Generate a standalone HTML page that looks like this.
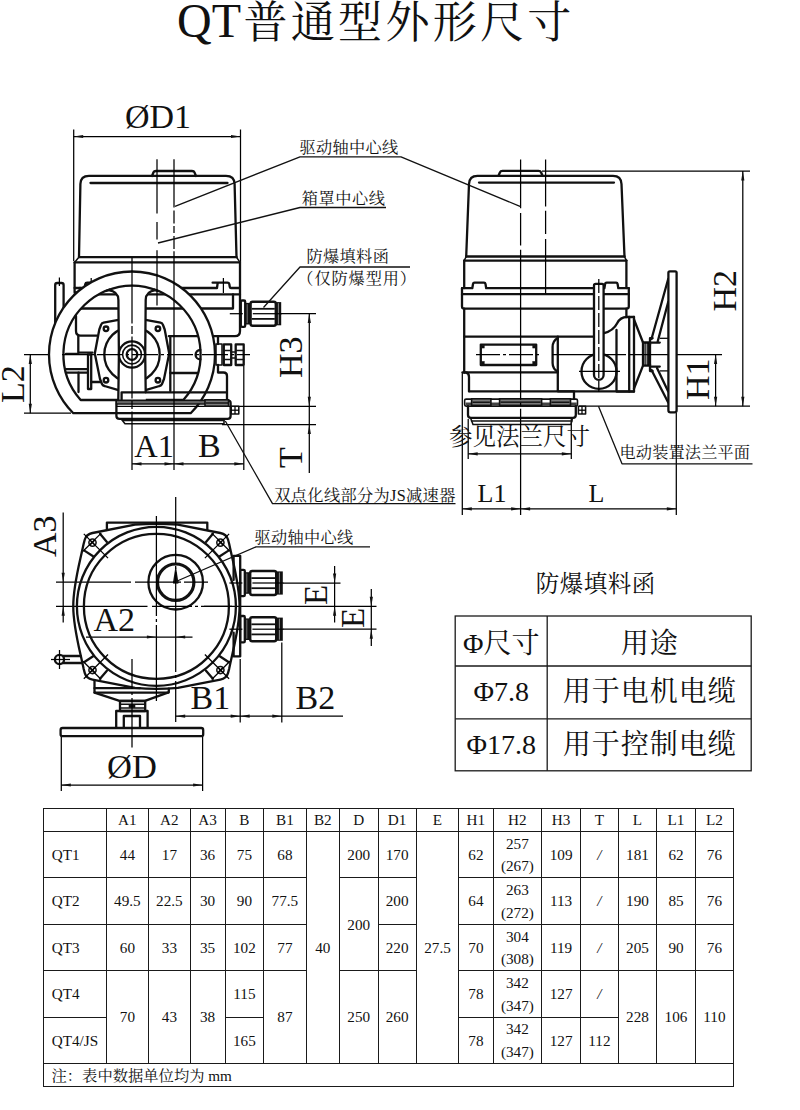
<!DOCTYPE html>
<html lang="zh-CN">
<head>
<meta charset="utf-8">
<title>QT普通型外形尺寸</title>
<style>
html,body{margin:0;padding:0;background:#fff;}
body{width:800px;height:1110px;overflow:hidden;font-family:"Liberation Serif","Noto Serif CJK SC",serif;}
svg{display:block;position:absolute;left:0;top:0;}
.t{font-family:"Liberation Serif","Noto Serif CJK SC",serif;fill:#111;}
.c{font-family:"Liberation Serif","Noto Serif CJK SC",serif;fill:#111;font-weight:300;}
.k{fill:none;stroke:#111;stroke-width:2.3;stroke-linejoin:round;stroke-linecap:round;}
.kw{fill:#fff;stroke:#111;stroke-width:2.3;stroke-linejoin:round;stroke-linecap:round;}
.m{fill:none;stroke:#111;stroke-width:1.55;stroke-linejoin:round;stroke-linecap:round;}
.mw{fill:#fff;stroke:#111;stroke-width:1.55;stroke-linejoin:round;}
.n{fill:none;stroke:#000;stroke-width:1.25;}
.nw{fill:#fff;stroke:#000;stroke-width:1.25;}
.d{fill:none;stroke:#151515;stroke-width:1.15;stroke-dasharray:26 4 3 4;}
.ld{fill:none;stroke:#111;stroke-width:1.3;stroke-linejoin:round;}
.a{fill:#111;stroke:none;}
.b{fill:#111;stroke:#111;stroke-width:0.6;}
.g{fill:#555;stroke:#111;stroke-width:0.8;}
.tb{fill:none;stroke:#1a1a1a;stroke-width:1;shape-rendering:crispEdges;}
.tb2{fill:none;stroke:#1a1a1a;stroke-width:1.3;}
</style>
</head>
<body>
<svg width="800" height="1110" viewBox="0 0 800 1110">
<rect x="0" y="0" width="800" height="1110" fill="#fff"/>
<g id="p_table">
<rect class="tb" x="43.5" y="808" width="690" height="278.5"/>
<line class="tb" x1="106.25" y1="808" x2="106.25" y2="1063"/>
<line class="tb" x1="148.5" y1="808" x2="148.5" y2="1063"/>
<line class="tb" x1="190.25" y1="808" x2="190.25" y2="1063"/>
<line class="tb" x1="225" y1="808" x2="225" y2="1063"/>
<line class="tb" x1="263.75" y1="808" x2="263.75" y2="1063"/>
<line class="tb" x1="306" y1="808" x2="306" y2="1063"/>
<line class="tb" x1="339.5" y1="808" x2="339.5" y2="1063"/>
<line class="tb" x1="378" y1="808" x2="378" y2="1063"/>
<line class="tb" x1="416.25" y1="808" x2="416.25" y2="1063"/>
<line class="tb" x1="458.75" y1="808" x2="458.75" y2="1063"/>
<line class="tb" x1="493" y1="808" x2="493" y2="1063"/>
<line class="tb" x1="541.75" y1="808" x2="541.75" y2="1063"/>
<line class="tb" x1="580.5" y1="808" x2="580.5" y2="1063"/>
<line class="tb" x1="618.25" y1="808" x2="618.25" y2="1063"/>
<line class="tb" x1="656.75" y1="808" x2="656.75" y2="1063"/>
<line class="tb" x1="695.25" y1="808" x2="695.25" y2="1063"/>
<line class="tb" x1="43.5" y1="831.25" x2="733.5" y2="831.25"/>
<line class="tb" x1="43.5" y1="1063" x2="733.5" y2="1063"/>
<line class="tb" x1="43.5" y1="877.5" x2="306" y2="877.5"/>
<line class="tb" x1="339.5" y1="877.5" x2="416.25" y2="877.5"/>
<line class="tb" x1="458.75" y1="877.5" x2="733.5" y2="877.5"/>
<line class="tb" x1="43.5" y1="924" x2="306" y2="924"/>
<line class="tb" x1="378" y1="924" x2="416.25" y2="924"/>
<line class="tb" x1="458.75" y1="924" x2="733.5" y2="924"/>
<line class="tb" x1="43.5" y1="970.5" x2="306" y2="970.5"/>
<line class="tb" x1="339.5" y1="970.5" x2="416.25" y2="970.5"/>
<line class="tb" x1="458.75" y1="970.5" x2="733.5" y2="970.5"/>
<line class="tb" x1="43.5" y1="1017" x2="106.25" y2="1017"/>
<line class="tb" x1="225" y1="1017" x2="263.75" y2="1017"/>
<line class="tb" x1="458.75" y1="1017" x2="618.25" y2="1017"/>
<text class="t" x="127.38" y="824.83" font-size="15.2" text-anchor="middle">A1</text>
<text class="t" x="169.38" y="824.83" font-size="15.2" text-anchor="middle">A2</text>
<text class="t" x="207.62" y="824.83" font-size="15.2" text-anchor="middle">A3</text>
<text class="t" x="244.38" y="824.83" font-size="15.2" text-anchor="middle">B</text>
<text class="t" x="284.88" y="824.83" font-size="15.2" text-anchor="middle">B1</text>
<text class="t" x="322.75" y="824.83" font-size="15.2" text-anchor="middle">B2</text>
<text class="t" x="358.75" y="824.83" font-size="15.2" text-anchor="middle">D</text>
<text class="t" x="397.12" y="824.83" font-size="15.2" text-anchor="middle">D1</text>
<text class="t" x="437.5" y="824.83" font-size="15.2" text-anchor="middle">E</text>
<text class="t" x="475.88" y="824.83" font-size="15.2" text-anchor="middle">H1</text>
<text class="t" x="517.38" y="824.83" font-size="15.2" text-anchor="middle">H2</text>
<text class="t" x="561.12" y="824.83" font-size="15.2" text-anchor="middle">H3</text>
<text class="t" x="599.38" y="824.83" font-size="15.2" text-anchor="middle">T</text>
<text class="t" x="637.5" y="824.83" font-size="15.2" text-anchor="middle">L</text>
<text class="t" x="676" y="824.83" font-size="15.2" text-anchor="middle">L1</text>
<text class="t" x="714.38" y="824.83" font-size="15.2" text-anchor="middle">L2</text>
<text class="t" x="51.7" y="859.88" font-size="15.2" text-anchor="start">QT1</text>
<text class="t" x="51.7" y="906.25" font-size="15.2" text-anchor="start">QT2</text>
<text class="t" x="51.7" y="952.75" font-size="15.2" text-anchor="start">QT3</text>
<text class="t" x="51.7" y="999.25" font-size="15.2" text-anchor="start">QT4</text>
<text class="t" x="51.7" y="1045.5" font-size="15.2" text-anchor="start">QT4/JS</text>
<text class="t" x="127.38" y="859.88" font-size="15.2" text-anchor="middle">44</text>
<text class="t" x="169.38" y="859.88" font-size="15.2" text-anchor="middle">17</text>
<text class="t" x="207.62" y="859.88" font-size="15.2" text-anchor="middle">36</text>
<text class="t" x="244.38" y="859.88" font-size="15.2" text-anchor="middle">75</text>
<text class="t" x="284.88" y="859.88" font-size="15.2" text-anchor="middle">68</text>
<text class="t" x="127.38" y="906.25" font-size="15.2" text-anchor="middle">49.5</text>
<text class="t" x="169.38" y="906.25" font-size="15.2" text-anchor="middle">22.5</text>
<text class="t" x="207.62" y="906.25" font-size="15.2" text-anchor="middle">30</text>
<text class="t" x="244.38" y="906.25" font-size="15.2" text-anchor="middle">90</text>
<text class="t" x="284.88" y="906.25" font-size="15.2" text-anchor="middle">77.5</text>
<text class="t" x="127.38" y="952.75" font-size="15.2" text-anchor="middle">60</text>
<text class="t" x="169.38" y="952.75" font-size="15.2" text-anchor="middle">33</text>
<text class="t" x="207.62" y="952.75" font-size="15.2" text-anchor="middle">35</text>
<text class="t" x="244.38" y="952.75" font-size="15.2" text-anchor="middle">102</text>
<text class="t" x="284.88" y="952.75" font-size="15.2" text-anchor="middle">77</text>
<text class="t" x="127.38" y="1022.25" font-size="15.2" text-anchor="middle">70</text>
<text class="t" x="169.38" y="1022.25" font-size="15.2" text-anchor="middle">43</text>
<text class="t" x="207.62" y="1022.25" font-size="15.2" text-anchor="middle">38</text>
<text class="t" x="244.38" y="999.25" font-size="15.2" text-anchor="middle">115</text>
<text class="t" x="244.38" y="1045.5" font-size="15.2" text-anchor="middle">165</text>
<text class="t" x="284.88" y="1022.25" font-size="15.2" text-anchor="middle">87</text>
<text class="t" x="322.75" y="952.62" font-size="15.2" text-anchor="middle">40</text>
<text class="t" x="358.75" y="859.88" font-size="15.2" text-anchor="middle">200</text>
<text class="t" x="358.75" y="929.5" font-size="15.2" text-anchor="middle">200</text>
<text class="t" x="358.75" y="1022.25" font-size="15.2" text-anchor="middle">250</text>
<text class="t" x="397.12" y="859.88" font-size="15.2" text-anchor="middle">170</text>
<text class="t" x="397.12" y="906.25" font-size="15.2" text-anchor="middle">200</text>
<text class="t" x="397.12" y="952.75" font-size="15.2" text-anchor="middle">220</text>
<text class="t" x="397.12" y="1022.25" font-size="15.2" text-anchor="middle">260</text>
<text class="t" x="437.5" y="952.62" font-size="15.2" text-anchor="middle">27.5</text>
<text class="t" x="475.88" y="859.88" font-size="15.2" text-anchor="middle">62</text>
<text class="t" x="475.88" y="906.25" font-size="15.2" text-anchor="middle">64</text>
<text class="t" x="475.88" y="952.75" font-size="15.2" text-anchor="middle">70</text>
<text class="t" x="475.88" y="999.25" font-size="15.2" text-anchor="middle">78</text>
<text class="t" x="475.88" y="1045.5" font-size="15.2" text-anchor="middle">78</text>
<text class="t" x="561.12" y="859.88" font-size="15.2" text-anchor="middle">109</text>
<text class="t" x="561.12" y="906.25" font-size="15.2" text-anchor="middle">113</text>
<text class="t" x="561.12" y="952.75" font-size="15.2" text-anchor="middle">119</text>
<text class="t" x="561.12" y="999.25" font-size="15.2" text-anchor="middle">127</text>
<text class="t" x="561.12" y="1045.5" font-size="15.2" text-anchor="middle">127</text>
<text class="t" x="599.38" y="859.88" font-size="15.2" text-anchor="middle" font-style="italic">/</text>
<text class="t" x="599.38" y="906.25" font-size="15.2" text-anchor="middle" font-style="italic">/</text>
<text class="t" x="599.38" y="952.75" font-size="15.2" text-anchor="middle" font-style="italic">/</text>
<text class="t" x="599.38" y="999.25" font-size="15.2" text-anchor="middle" font-style="italic">/</text>
<text class="t" x="599.38" y="1045.5" font-size="15.2" text-anchor="middle">112</text>
<text class="t" x="637.5" y="859.88" font-size="15.2" text-anchor="middle">181</text>
<text class="t" x="637.5" y="906.25" font-size="15.2" text-anchor="middle">190</text>
<text class="t" x="637.5" y="952.75" font-size="15.2" text-anchor="middle">205</text>
<text class="t" x="637.5" y="1022.25" font-size="15.2" text-anchor="middle">228</text>
<text class="t" x="676" y="859.88" font-size="15.2" text-anchor="middle">62</text>
<text class="t" x="676" y="906.25" font-size="15.2" text-anchor="middle">85</text>
<text class="t" x="676" y="952.75" font-size="15.2" text-anchor="middle">90</text>
<text class="t" x="676" y="1022.25" font-size="15.2" text-anchor="middle">106</text>
<text class="t" x="714.38" y="859.88" font-size="15.2" text-anchor="middle">76</text>
<text class="t" x="714.38" y="906.25" font-size="15.2" text-anchor="middle">76</text>
<text class="t" x="714.38" y="952.75" font-size="15.2" text-anchor="middle">76</text>
<text class="t" x="714.38" y="1022.25" font-size="15.2" text-anchor="middle">110</text>
<text class="t" x="517.38" y="848.77" font-size="15.2" text-anchor="middle">257</text>
<text class="t" x="517.38" y="871.38" font-size="15.2" text-anchor="middle">(267)</text>
<text class="t" x="517.38" y="895.15" font-size="15.2" text-anchor="middle">263</text>
<text class="t" x="517.38" y="917.75" font-size="15.2" text-anchor="middle">(272)</text>
<text class="t" x="517.38" y="941.65" font-size="15.2" text-anchor="middle">304</text>
<text class="t" x="517.38" y="964.25" font-size="15.2" text-anchor="middle">(308)</text>
<text class="t" x="517.38" y="988.15" font-size="15.2" text-anchor="middle">342</text>
<text class="t" x="517.38" y="1010.75" font-size="15.2" text-anchor="middle">(347)</text>
<text class="t" x="517.38" y="1034.4" font-size="15.2" text-anchor="middle">342</text>
<text class="t" x="517.38" y="1057" font-size="15.2" text-anchor="middle">(347)</text>
<text class="t" x="51.5" y="1080.6" font-size="15.3">注：表中数据单位均为 <tspan font-size="15.2">mm</tspan></text>
</g>
<g id="p_legend">
<text class="t" x="535.7" y="592" font-size="23.5" text-anchor="start" letter-spacing="0.5">防爆填料函</text>
<rect class="tb2" x="455.2" y="616" width="296" height="154.8"/>
<line class="tb2" x1="547.2" y1="616" x2="547.2" y2="770.8"/>
<line class="tb2" x1="455.2" y1="666" x2="751.2" y2="666"/>
<line class="tb2" x1="455.2" y1="718.8" x2="751.2" y2="718.8"/>
<text class="t" x="501.2" y="653.3" font-size="28" text-anchor="middle">Φ尺寸</text>
<text class="t" x="649.7" y="653.3" font-size="28" text-anchor="middle" letter-spacing="1">用途</text>
<text class="t" x="501.2" y="701.1" font-size="28" text-anchor="middle">Φ7.8</text>
<text class="t" x="649.7" y="701.1" font-size="28" text-anchor="middle" letter-spacing="1">用于电机电缆</text>
<text class="t" x="501.2" y="754.3" font-size="28" text-anchor="middle">Φ17.8</text>
<text class="t" x="649.7" y="754.3" font-size="28" text-anchor="middle" letter-spacing="1">用于控制电缆</text>
</g>
<g id="p_front">
<line class="n" x1="73.7" y1="129.5" x2="73.7" y2="261"/>
<line class="n" x1="240.5" y1="129.5" x2="240.5" y2="262"/>
<line class="n" x1="73.7" y1="136.5" x2="240.5" y2="136.5"/>
<polygon class="a" points="73.7,136.5 83.2,134.9 83.2,138.1"/>
<polygon class="a" points="240.5,136.5 231,138.1 231,134.9"/>
<line class="n" x1="24" y1="354.5" x2="62" y2="354.5"/>
<line class="n" x1="24" y1="413.2" x2="71" y2="413.2"/>
<line class="n" x1="30.3" y1="354.5" x2="30.3" y2="413.2"/>
<polygon class="a" points="30.3,354.5 31.9,364 28.7,364"/>
<polygon class="a" points="30.3,413.2 28.7,403.7 31.9,403.7"/>
<line class="n" x1="243.8" y1="366" x2="243.8" y2="470"/>
<line class="n" x1="132" y1="463.8" x2="174" y2="463.8"/>
<polygon class="a" points="132,463.8 141.5,462.2 141.5,465.4"/>
<polygon class="a" points="174,463.8 164.5,465.4 164.5,462.2"/>
<line class="n" x1="174" y1="463.8" x2="243.8" y2="463.8"/>
<polygon class="a" points="174,463.8 183.5,462.2 183.5,465.4"/>
<polygon class="a" points="243.8,463.8 234.3,465.4 234.3,462.2"/>
<line class="n" x1="281" y1="313.6" x2="316" y2="313.6"/>
<line class="n" x1="231" y1="406.3" x2="316" y2="406.3"/>
<line class="n" x1="222" y1="424.6" x2="316" y2="424.6"/>
<line class="n" x1="309.3" y1="313.6" x2="309.3" y2="473"/>
<polygon class="a" points="309.3,313.6 310.9,323.1 307.7,323.1"/>
<polygon class="a" points="309.3,406.3 307.7,396.8 310.9,396.8"/>
<polygon class="a" points="309.3,424.6 310.9,434.1 307.7,434.1"/>
<path class="k" d="M152 176 L153.5 172.3 Q154 171 156 171 L192 171 Q194 171 194.5 172.3 L196 176"/>
<path class="k" d="M79 257.1 L80.4 184 Q80.6 175.8 89 175.8 L226 175.8 Q234.4 175.8 234.6 184 L236.5 257.1"/>
<line class="k" x1="90.5" y1="183" x2="227.5" y2="183"/>
<line class="k" x1="79" y1="257.1" x2="236.5" y2="257.1"/>
<line class="k" x1="74.6" y1="262.4" x2="240" y2="262.4"/>
<line class="m" x1="74.6" y1="262.4" x2="79" y2="257.1"/>
<line class="m" x1="240" y1="262.4" x2="236.5" y2="257.1"/>
<path class="k" d="M74.6 262.4 L74.6 292.5 L80 292.5 L80 288"/>
<path class="k" d="M240 262.4 L240 331 Q240 336.2 235 336.2 L168.8 336.2"/>
<path class="k" d="M74.6 288 L83.6 288 Q84.6 288 84.8 287 L85.3 284 Q85.6 282.7 87.1 282.7 L102 282.7 M95.6 282.7 Q96.8 282.7 97 283.5 L97.6 288 L217 288 L217.6 283.5 Q217.8 282.7 219 282.7 M212.6 282.7 L227.5 282.7 Q229 282.7 229.3 284 L229.8 287 Q230 288 231 288 L240 288"/>
<line class="n" x1="91.2" y1="278" x2="91.2" y2="293"/>
<line class="n" x1="223.4" y1="278" x2="223.4" y2="293"/>
<line class="k" x1="74.6" y1="294.3" x2="240" y2="294.3"/>
<path class="k" d="M80 308.5 L233 308.5 L233 294.3"/>
<path class="k" d="M76 316 L76 331 Q76 335.6 80.6 335.6 L97 335.6"/>
<path class="k" d="M78.3 336 L78.3 352.6 L92.5 352.6"/>
<line class="k" x1="66" y1="353.8" x2="78.3" y2="353.8"/>
<line class="k" x1="66" y1="369.2" x2="88" y2="369.2"/>
<line class="k" x1="66" y1="372.6" x2="88" y2="372.6"/>
<rect class="kw" x="88" y="354.5" width="3.2" height="34.5"/>
<path class="k" d="M91.2 382 L100.5 382"/>
<path class="k" d="M78.5 372.6 L78.5 392 "/>
<path class="k" d="M170.3 336.2 L170.3 391"/>
<line class="k" x1="170.3" y1="373" x2="198" y2="373"/>
<path class="k" d="M55.2 325 L55.2 285 Q55.2 283 57.2 283 L61.6 283 Q63.6 283 63.6 285 L63.6 310"/>
<line class="n" x1="59.4" y1="277.5" x2="59.4" y2="286"/>
<rect class="kw" x="240.8" y="300.5" width="4.4" height="26.4" rx="1.2"/>
<rect class="a" x="245.5" y="302.9" width="5.9" height="21.6"/>
<line x1="247.2" y1="304.2" x2="247.2" y2="323.2" stroke="#ddd" stroke-width="0.5"/>
<rect x="250.6" y="301.7" width="25.2" height="24" rx="2" fill="#fff" stroke="#111" stroke-width="2.4"/>
<line x1="251.8" y1="308.8" x2="274.8" y2="308.8" stroke="#111" stroke-width="1.8"/>
<line x1="251.8" y1="318.9" x2="274.8" y2="318.9" stroke="#111" stroke-width="1.8"/>
<rect class="a" x="275.8" y="302.1" width="5.4" height="23.2"/>
<line x1="278.4" y1="303.2" x2="278.4" y2="324.2" stroke="#ddd" stroke-width="0.6"/>
<line class="n" x1="229.8" y1="313.7" x2="242.8" y2="313.7"/>
<line class="n" x1="252.8" y1="313.7" x2="281.8" y2="313.7"/>
<path class="k" d="M218 336.2 L218 344 M218 365 L218 372.5 L223.5 372.5 Q227 372.5 227 376 L227 400"/>
<rect class="m" x="216" y="344" width="6" height="21"/>
<rect class="k" x="223.8" y="344.4" width="7.4" height="20.6"/>
<rect class="k" x="235.7" y="344.4" width="8" height="20.6"/>
<line class="m" x1="223.8" y1="350.5" x2="231.2" y2="350.5"/>
<line class="m" x1="235.7" y1="350.5" x2="243.7" y2="350.5"/>
<line class="m" x1="223.8" y1="359.5" x2="231.2" y2="359.5"/>
<line class="m" x1="235.7" y1="359.5" x2="243.7" y2="359.5"/>
<line class="m" x1="231.2" y1="352" x2="235.7" y2="352"/>
<line class="m" x1="231.2" y1="358" x2="235.7" y2="358"/>
<path class="k" d="M118.5 319.8 L103.5 322.6 Q101.6 323 101 325 L99.3 329.5 L94.8 353.5 L100 379 L102 384 Q102.6 385.6 104.5 386 L118.5 390.2"/>
<path class="k" d="M145.5 319.8 L160.5 322.6 Q162.4 323 163 325 L164.7 329.5 L169.2 353.5 L164 379 L162 384 Q161.4 385.6 159.5 386 L145.5 390.2"/>
<circle class="k" cx="132" cy="354.5" r="27.7"/>
<circle class="k" cx="106" cy="328.8" r="2.3"/>
<circle class="k" cx="157.9" cy="328.8" r="2.3"/>
<circle class="k" cx="106" cy="380.2" r="2.3"/>
<circle class="k" cx="157.9" cy="380.2" r="2.3"/>
<path class="kw" fill-rule="evenodd" d="M73.32 413.2 A83 83 0 1 1 190.68 413.2 Z M80.66 400 A68.6 68.6 0 1 1 183.34 400 Z"/>
<path class="k" d="M200.3 350 A4.7 4.7 0 0 0 200.3 359.4"/>
<path class="kw" d="M110.5 291.5 Q118.3 292 118.4 300 L118.9 354 L118.3 400 L145.8 400 L145.2 354 L145.7 300 Q145.8 292 153.5 291.5 L153.5 284.6 L110.5 284.6 Z" style="stroke:none"/>
<path class="k" d="M108.5 290.2 Q118.3 291.5 118.4 300 L118.9 354 L118.3 400"/>
<path class="k" d="M155.5 290.2 Q145.8 291.5 145.7 300 L145.2 354 L145.7 392.3"/>
<path class="k" d="M106 291.02 A68.6 68.6 0 0 1 158 291.02"/>
<circle class="kw" cx="132" cy="354.5" r="13.1"/>
<circle class="m" cx="132" cy="354.5" r="9.4"/>
<circle class="k" cx="132" cy="354.5" r="5.3"/>
<path class="k" d="M121.6 399.8 L121.6 392.3 L225.8 392.3"/>
<path class="k" d="M116.4 400.7 L228.5 400.7 Q230.6 400.9 230.6 403 L230.6 416 Q230.6 418.8 227.6 418.8 L119.5 418.8 Q116.4 418.8 116.4 416 Z"/>
<rect x="117" y="401.2" width="88" height="2.6" fill="#666"/>
<line class="m" x1="116.4" y1="404" x2="205" y2="404"/>
<line class="n" x1="116.4" y1="406.3" x2="230" y2="406.3"/>
<rect x="205" y="399.8" width="23.5" height="6.4" fill="#7a7a7a" stroke="#111" stroke-width="1.6"/>
<line class="n" x1="206" y1="403" x2="228" y2="403"/>
<path class="m" d="M121 418.8 L125 423.8 L224 423.8 L224 418.8"/>
<line class="m" x1="123.5" y1="420.4" x2="224" y2="420.4"/>
<rect class="m" x="231.2" y="406.3" width="7.6" height="7.7"/>
<line class="n" x1="235" y1="406.3" x2="235" y2="414"/>
<line class="n" x1="231.2" y1="410.2" x2="238.8" y2="410.2"/>
<path class="n" stroke-dasharray="66 2.5 8 2.5 62 2.5 8 2.5 100" d="M132 257.5 L132 470"/>
<path class="n" stroke-dasharray="48.2 3 13 2.5 7 3 13 2.3 400" d="M174 159.2 L174 470"/>
<path class="n" stroke-dasharray="54.3 8.5 17.6 10.7 55.1" d="M157 159.2 L157 305.4"/>
<path class="n" stroke-dasharray="26 3 3 3" d="M62 354.5 L250 354.5"/>
</g>
<g id="p_side">
<line class="n" x1="542" y1="171" x2="750" y2="171"/>
<line class="n" x1="579" y1="406.2" x2="750" y2="406.2"/>
<line class="n" x1="742.8" y1="171" x2="742.8" y2="406.2"/>
<polygon class="a" points="742.8,171 744.4,180.5 741.2,180.5"/>
<polygon class="a" points="742.8,406.2 741.2,396.7 744.4,396.7"/>
<line class="n" x1="651" y1="354.6" x2="722" y2="354.6"/>
<line class="n" x1="715.6" y1="354.6" x2="715.6" y2="406.2"/>
<polygon class="a" points="715.6,354.6 717.2,364.1 714,364.1"/>
<polygon class="a" points="715.6,406.2 714,396.7 717.2,396.7"/>
<line class="n" x1="462.3" y1="372" x2="462.3" y2="515"/>
<line class="n" x1="676.3" y1="413" x2="676.3" y2="515"/>
<line class="n" x1="462.3" y1="508.8" x2="520.6" y2="508.8"/>
<polygon class="a" points="462.3,508.8 471.8,507.2 471.8,510.4"/>
<polygon class="a" points="520.6,508.8 511.1,510.4 511.1,507.2"/>
<line class="n" x1="520.6" y1="508.8" x2="676.3" y2="508.8"/>
<polygon class="a" points="520.6,508.8 530.1,507.2 530.1,510.4"/>
<polygon class="a" points="676.3,508.8 666.8,510.4 666.8,507.2"/>
<line class="n" x1="468.2" y1="419" x2="468.2" y2="459"/>
<line class="n" x1="571.3" y1="419" x2="571.3" y2="459"/>
<line class="n" x1="468.2" y1="453.8" x2="571.3" y2="453.8"/>
<polygon class="a" points="468.2,453.8 477.7,452.2 477.7,455.4"/>
<polygon class="a" points="571.3,453.8 561.8,455.4 561.8,452.2"/>
<path class="k" d="M498.5 175.8 L500 172.2 Q500.5 170.9 502.5 170.9 L538.5 170.9 Q540.5 170.9 541 172.2 L542.5 175.8"/>
<path class="k" d="M466.2 256.5 L469 184 Q469.3 175.8 477.5 175.8 L613 175.8 Q621.2 175.8 621.5 184 L624.5 256.5"/>
<line class="k" x1="479" y1="182.6" x2="614" y2="182.6"/>
<line class="k" x1="466.2" y1="256.5" x2="624.5" y2="256.5"/>
<line class="k" x1="464.2" y1="260.6" x2="626.4" y2="260.6"/>
<line class="m" x1="464.2" y1="260.6" x2="466.2" y2="256.5"/>
<line class="m" x1="626.4" y1="260.6" x2="624.5" y2="256.5"/>
<line class="k" x1="464.2" y1="260.6" x2="464.2" y2="288"/>
<line class="k" x1="626.4" y1="260.6" x2="626.4" y2="288"/>
<path class="k" d="M462 288.2 L472.3 288.2 L473 284 Q473.2 282.7 474.5 282.7 L484 282.7 Q485.3 282.7 485.5 284 L486.2 288.2 L604.4 288.2 L605.1 284 Q605.3 282.7 606.6 282.7 L616.1 282.7 Q617.4 282.7 617.6 284 L618.3 288.2 L628.8 288.2"/>
<path class="k" d="M462 288.2 L462 306.5 Q462 308.6 464.2 308.6 L626.4 308.6 Q628.8 308.6 628.8 306.5 L628.8 288.2"/>
<line class="k" x1="462" y1="294.2" x2="628.8" y2="294.2"/>
<path class="k" d="M464.2 308.6 L464.2 372.5"/>
<path class="k" d="M626.4 308.6 L626.4 317"/>
<line class="k" x1="464.2" y1="336.6" x2="593.5" y2="336.6"/>
<path class="k" d="M557.8 336.6 L557.8 390.8"/>
<path class="k" d="M557.8 338 Q552.6 341 552.6 347 L552.6 363 Q552.6 369 557.8 371.6"/>
<rect class="k" x="480.8" y="344.6" width="55.4" height="20.4"/>
<rect class="b" x="481.8" y="345.6" width="2.4" height="2.4"/>
<rect class="b" x="532.8" y="345.6" width="2.4" height="2.4"/>
<rect class="b" x="481.8" y="361.6" width="2.4" height="2.4"/>
<rect class="b" x="532.8" y="361.6" width="2.4" height="2.4"/>
<path class="k" d="M462.5 372.4 L466 372.5 Q469 373 469 377 L469 391.3"/>
<line class="k" x1="464.2" y1="372.4" x2="557.8" y2="372.4"/>
<path class="k" d="M469 391.3 L574 391.3 L574 399"/>
<path class="k" d="M604 333.2 Q613.5 330.5 617 323.5 Q620.2 317 627 317 L634 317"/>
<path class="k" d="M616.5 330 L616.5 391.6 L634 391.6"/>
<path class="k" d="M629.2 317 L629.2 391.6"/>
<path class="k" d="M634 317 L634 391.6"/>
<path class="k" d="M634 319.5 L643 342.5"/>
<path class="k" d="M634 388.5 L643 365.6"/>
<line class="k" x1="557.8" y1="391.3" x2="634" y2="391.3"/>
<circle class="k" cx="599" cy="371.4" r="17.5"/>
<path class="kw" d="M594 375 L594 285.5 Q594 283.8 595.7 283.8 L602 283.8 Q603.6 283.8 603.6 285.5 L603.6 375 A4.8 4.8 0 0 1 594 375 Z"/>
<path class="n" stroke-dasharray="14 3" d="M598.8 279 L598.8 392"/>
<rect class="k" x="643" y="342.5" width="7" height="23.1"/>
<line class="n" x1="645.1" y1="342.5" x2="645.1" y2="365.6"/>
<line class="n" x1="647.2" y1="342.5" x2="647.2" y2="365.6"/>
<line class="n" x1="648.7" y1="342.5" x2="648.7" y2="365.6"/>
<path class="k" d="M650 345 L650 338.2 L652.6 338.2 M650 342.6 L659.8 342.6"/>
<path class="k" d="M650 364.2 L650 371 L652.6 371 M650 366.6 L659.8 366.6"/>
<line class="n" x1="659.8" y1="338.3" x2="668" y2="338.3"/>
<line class="n" x1="659.8" y1="370.9" x2="668" y2="370.9"/>
<path class="k" d="M668.2 279 L651.5 339"/>
<path class="k" d="M668.2 302 L657.7 341.5"/>
<path class="k" d="M651.5 370 L668.2 402.6"/>
<path class="k" d="M657 368 L668.2 391.4"/>
<path class="kw" d="M668.4 272.8 Q668.4 271.4 669.8 271.4 L675.2 271.4 Q676.6 271.4 676.6 272.8 L676.6 410.2 Q676.6 412.3 674.5 412.3 L670.5 412.3 Q668.4 412.3 668.4 410.2 Z"/>
<rect class="m" x="464.6" y="399.1" width="112.9" height="7" rx="1.5"/>
<line x1="465.5" y1="403.9" x2="576.8" y2="403.9" stroke="#444" stroke-width="2.6"/>
<rect x="471.6" y="398.8" width="19.3" height="6.6" fill="#7a7a7a" stroke="#111" stroke-width="1.6"/>
<line class="n" x1="472.6" y1="402.2" x2="489.9" y2="402.2"/>
<rect x="499.6" y="398.8" width="42" height="6.6" fill="#7a7a7a" stroke="#111" stroke-width="1.6"/>
<line class="n" x1="500.6" y1="402.2" x2="540.6" y2="402.2"/>
<rect x="550.4" y="398.8" width="20.1" height="6.6" fill="#7a7a7a" stroke="#111" stroke-width="1.6"/>
<line class="n" x1="551.4" y1="402.2" x2="569.5" y2="402.2"/>
<path class="k" d="M468 406.1 L468 415 Q468 417.8 471 417.8 L573 417.8 Q575.8 417.8 575.8 415 L575.8 406.1"/>
<path class="m" d="M470.5 417.8 L473 424.4 L571 424.4 L572.5 417.8"/>
<line class="m" x1="471.5" y1="421" x2="572" y2="421"/>
<rect class="m" x="578.4" y="406.2" width="7.2" height="7.8"/>
<line class="n" x1="578.4" y1="410.2" x2="585.6" y2="410.2"/>
<line class="n" x1="582" y1="406.2" x2="582" y2="414"/>
<path class="n" stroke-dasharray="48.7 4.8 32.6 4.2 150 3 3 3 150 3 3 3" d="M520.6 159.5 L520.6 515"/>
<path class="n" stroke-dasharray="47 4.2 23.4 4.8 60" d="M545.6 159.5 L545.6 293.5"/>
<path class="n" stroke-dasharray="24 3 3 3" d="M476 354.6 L541 354.6"/>
<path class="n" d="M552 354.6 L593 354.6 M604.5 354.6 L626 354.6 M629.5 354.6 L651 354.6"/>
<path class="n" d="M579 371.4 L620 371.4"/>
</g>
<g id="p_bottom">
<line class="n" x1="63.2" y1="512.5" x2="63.2" y2="622.5"/>
<polygon class="a" points="63.2,582.2 61.6,572.7 64.8,572.7"/>
<polygon class="a" points="63.2,606.3 64.8,615.8 61.6,615.8"/>
<line class="n" x1="56" y1="582.2" x2="131" y2="582.2"/>
<line class="n" x1="56" y1="606.3" x2="147.5" y2="606.3"/>
<line class="n" x1="86" y1="637" x2="192.5" y2="637"/>
<polygon class="a" points="156.4,637 146.9,638.6 146.9,635.4"/>
<polygon class="a" points="175.7,637 185.2,635.4 185.2,638.6"/>
<line class="n" x1="240.2" y1="659" x2="240.2" y2="722.5"/>
<line class="n" x1="281.8" y1="642.5" x2="281.8" y2="722.5"/>
<line class="n" x1="175.7" y1="716.2" x2="343" y2="716.2"/>
<polygon class="a" points="175.7,716.2 185.2,714.6 185.2,717.8"/>
<polygon class="a" points="240.2,716.2 230.7,717.8 230.7,714.6"/>
<polygon class="a" points="240.2,716.2 249.7,714.6 249.7,717.8"/>
<polygon class="a" points="281.8,716.2 272.3,717.8 272.3,714.6"/>
<line class="n" x1="283" y1="583" x2="340.5" y2="583"/>
<line class="n" x1="204" y1="606.3" x2="376.5" y2="606.3"/>
<line class="n" x1="283" y1="629.2" x2="376.5" y2="629.2"/>
<line class="n" x1="334.6" y1="566" x2="334.6" y2="622.5"/>
<polygon class="a" points="334.6,583 333,573.5 336.2,573.5"/>
<polygon class="a" points="334.6,606.3 336.2,615.8 333,615.8"/>
<line class="n" x1="371.3" y1="589" x2="371.3" y2="646"/>
<polygon class="a" points="371.3,606.3 369.7,596.8 372.9,596.8"/>
<polygon class="a" points="371.3,629.2 372.9,638.7 369.7,638.7"/>
<line class="n" x1="61.3" y1="736" x2="61.3" y2="791"/>
<line class="n" x1="202.6" y1="736" x2="202.6" y2="791"/>
<line class="n" x1="61.3" y1="785" x2="202.6" y2="785"/>
<polygon class="a" points="61.3,785 70.8,783.4 70.8,786.6"/>
<polygon class="a" points="202.6,785 193.1,786.6 193.1,783.4"/>
<path class="k" d="M106.9 530 L106.9 522.6 L207.3 522.6 L207.3 530"/>
<path class="k" d="M156.4 523.8 Q146 523.8 135 524.7 L92.5 533 Q86.3 534.2 84.8 539.5 L83.6 544 C79 566 73.25 585 73.25 606.3 C73.25 627.6 79 646.6 83.6 668.6 L84.8 673.1 Q86.3 678.4 92.5 679.6 L135 687.9 Q146 688.8 156.4 688.8"/>
<path class="k" d="M156.4 523.8 Q166.8 523.8 177.8 524.7 L220.3 533 Q226.5 534.2 228 539.5 L229.2 544 C233.8 566 239.55 585 239.55 606.3 C239.55 627.6 233.8 646.6 229.2 668.6 L228 673.1 Q226.5 678.4 220.3 679.6 L177.8 687.9 Q166.8 688.8 156.4 688.8"/>
<path class="k" d="M233.6 580 L233.6 555.8 L240.2 555.8 L240.2 656.4 L233.6 656.4 L233.6 632.6"/>
<circle class="k" cx="156.4" cy="606.3" r="79.5"/>
<circle class="k" cx="156.4" cy="606.3" r="72.5"/>
<circle class="m" cx="92.5" cy="542.6" r="3.6"/>
<line class="n" x1="89.8" y1="539.9" x2="95.2" y2="545.3"/>
<line class="n" x1="89.8" y1="545.3" x2="95.2" y2="539.9"/>
<path class="k" d="M100 533.8 L106.9 541.9"/>
<path class="k" d="M84.4 550.6 L93.1 556.3"/>
<line class="n" x1="83.8" y1="533.9" x2="108" y2="558.1"/>
<line class="n" x1="101.2" y1="533.1" x2="83" y2="551.3"/>
<circle class="m" cx="220.4" cy="542.6" r="3.6"/>
<line class="n" x1="217.7" y1="539.9" x2="223.1" y2="545.3"/>
<line class="n" x1="217.7" y1="545.3" x2="223.1" y2="539.9"/>
<path class="k" d="M212.9 533.8 L206 541.9"/>
<path class="k" d="M228.5 550.6 L219.8 556.3"/>
<line class="n" x1="229.1" y1="533.9" x2="204.9" y2="558.1"/>
<line class="n" x1="211.7" y1="533.1" x2="229.9" y2="551.3"/>
<circle class="m" cx="92.5" cy="670" r="3.6"/>
<line class="n" x1="89.8" y1="667.3" x2="95.2" y2="672.7"/>
<line class="n" x1="89.8" y1="672.7" x2="95.2" y2="667.3"/>
<path class="k" d="M100 678.8 L106.9 670.7"/>
<path class="k" d="M84.4 662 L93.1 656.3"/>
<line class="n" x1="83.8" y1="678.7" x2="108" y2="654.5"/>
<line class="n" x1="101.2" y1="679.5" x2="83" y2="661.3"/>
<circle class="m" cx="220.4" cy="670" r="3.6"/>
<line class="n" x1="217.7" y1="667.3" x2="223.1" y2="672.7"/>
<line class="n" x1="217.7" y1="672.7" x2="223.1" y2="667.3"/>
<path class="k" d="M212.9 678.8 L206 670.7"/>
<path class="k" d="M228.5 662 L219.8 656.3"/>
<line class="n" x1="229.1" y1="678.7" x2="204.9" y2="654.5"/>
<line class="n" x1="211.7" y1="679.5" x2="229.9" y2="661.3"/>
<circle class="k" cx="175.7" cy="582.2" r="27.3"/>
<circle cx="175.7" cy="582.2" r="18.2" fill="none" stroke="#111" stroke-width="3.2"/>
<polygon class="a" points="175.7,565 172.9,583 178.5,583"/>
<rect class="a" x="173.1" y="581" width="5.2" height="2.6"/>
<rect class="kw" x="240.4" y="569.8" width="4.4" height="26.4" rx="1.2"/>
<rect class="a" x="245.1" y="572.2" width="5.9" height="21.6"/>
<line x1="246.8" y1="573.5" x2="246.8" y2="592.5" stroke="#ddd" stroke-width="0.5"/>
<rect x="250.2" y="571" width="26" height="24" rx="2" fill="#fff" stroke="#111" stroke-width="2.4"/>
<line x1="251.4" y1="578.1" x2="275.2" y2="578.1" stroke="#111" stroke-width="1.8"/>
<line x1="251.4" y1="588.2" x2="275.2" y2="588.2" stroke="#111" stroke-width="1.8"/>
<rect class="a" x="276.2" y="571.4" width="6.6" height="23.2"/>
<line x1="279.4" y1="572.5" x2="279.4" y2="593.5" stroke="#ddd" stroke-width="0.6"/>
<line class="n" x1="229.4" y1="583" x2="242.4" y2="583"/>
<line class="n" x1="252.4" y1="583" x2="283.4" y2="583"/>
<rect class="kw" x="240.4" y="616" width="4.4" height="26.4" rx="1.2"/>
<rect class="a" x="245.1" y="618.4" width="5.9" height="21.6"/>
<line x1="246.8" y1="619.7" x2="246.8" y2="638.7" stroke="#ddd" stroke-width="0.5"/>
<rect x="250.2" y="617.2" width="26" height="24" rx="2" fill="#fff" stroke="#111" stroke-width="2.4"/>
<line x1="251.4" y1="624.3" x2="275.2" y2="624.3" stroke="#111" stroke-width="1.8"/>
<line x1="251.4" y1="634.4" x2="275.2" y2="634.4" stroke="#111" stroke-width="1.8"/>
<rect class="a" x="276.2" y="617.6" width="6.6" height="23.2"/>
<line x1="279.4" y1="618.7" x2="279.4" y2="639.7" stroke="#ddd" stroke-width="0.6"/>
<line class="n" x1="229.4" y1="629.2" x2="242.4" y2="629.2"/>
<line class="n" x1="252.4" y1="629.2" x2="283.4" y2="629.2"/>
<path class="k" d="M62 656 L80.5 656 M62 663 L82 663"/>
<circle class="kw" cx="59.5" cy="659.5" r="4.6"/>
<line class="n" x1="51" y1="659.5" x2="70" y2="659.5"/>
<line class="n" x1="59.5" y1="650" x2="59.5" y2="669"/>
<path class="k" d="M94.5 680.3 L94.5 692.6 L168.8 692.6 L168.8 688.6"/>
<line class="k" x1="94.5" y1="688.2" x2="140" y2="688.2"/>
<path class="k" d="M94.5 692.6 L119.5 700.8 L145 700.8 L167.8 692.6"/>
<rect class="k" x="120" y="701" width="25.2" height="10"/>
<line class="m" x1="120" y1="704.2" x2="145.2" y2="704.2"/>
<line class="m" x1="120" y1="708" x2="145.2" y2="708"/>
<rect class="b" x="129" y="704.6" width="6" height="3"/>
<path class="k" d="M116.2 727.6 L116.2 711 L147.6 711 L147.6 727.6"/>
<path class="k" d="M123.8 727.6 L123.8 716 L140 716 L140 727.6"/>
<rect class="kw" x="60.6" y="728" width="142.6" height="8.2" rx="2"/>
<path class="n" stroke-dasharray="100 3 3 3 100" d="M156.4 516 L156.4 701"/>
<path class="n" stroke-dasharray="66 3 3 3 100 3 3 3" d="M175.7 497 L175.7 722"/>
<path class="n" stroke-dasharray="40 3 3 3" d="M135 582.2 L208 582.2"/>
<path class="n" stroke-dasharray="40 3 3 3" d="M152 606.3 L232 606.3"/>
<path class="n" stroke-dasharray="30 3 3 3 80" d="M132 659 L132 747.5"/>
</g>
<g id="p_text">
<text class="t" x="177" y="36.5" font-size="48">QT</text>
<text class="t" x="243.5" y="37.6" font-size="44" letter-spacing="3.3">普通型外形尺寸</text>
<text class="t" x="299.5" y="152.5" font-size="16.2" text-anchor="start" letter-spacing="0.3">驱动轴中心线</text>
<path class="ld" d="M175 206.3 L300 156.8 L401 156.8 L520.6 206.6"/>
<text class="t" x="301.7" y="203.5" font-size="16.2" text-anchor="start" letter-spacing="0.55">箱罩中心线</text>
<path class="ld" d="M158 243 L300 207.5 L386 207.5"/>
<text class="t" x="306.5" y="261.5" font-size="16.2" text-anchor="start" letter-spacing="0.35">防爆填料函</text>
<text class="t" x="297.3" y="284" font-size="16.2" text-anchor="start" letter-spacing="0.9">（仅防爆型用）</text>
<path class="ld" d="M263.5 307.5 L300 267 L410 267"/>
<text class="t" x="274.3" y="500.8" font-size="16.2" text-anchor="start" letter-spacing="0.35">双点化线部分为JS减速器</text>
<path class="ld" d="M225.3 421 L272.5 503.6 L455.5 503.6"/>
<text class="t" x="254.6" y="543" font-size="16.2" text-anchor="start" letter-spacing="0.3">驱动轴中心线</text>
<path class="ld" d="M176 581.5 L256 546.8 L370 546.8"/>
<text class="t" x="449" y="445" font-size="23.5" text-anchor="start">参见法兰尺寸</text>
<text class="t" x="619.5" y="458" font-size="16.2" text-anchor="start" letter-spacing="0.15">电动装置法兰平面</text>
<path class="ld" d="M598.5 406.3 L622 463.8 L752.5 463.8"/>
<text class="t" x="125" y="128.3" font-size="34" text-anchor="start">ØD1</text>
<text class="t" x="134.3" y="457" font-size="32.5" text-anchor="start">A1</text>
<text class="t" x="198" y="457" font-size="34" text-anchor="start">B</text>
<text class="t" x="93.5" y="631" font-size="34" text-anchor="start">A2</text>
<text class="t" x="190.5" y="709" font-size="34" text-anchor="start">B1</text>
<text class="t" x="295.5" y="709" font-size="34" text-anchor="start">B2</text>
<text class="t" x="107" y="778" font-size="34.5" text-anchor="start">ØD</text>
<text class="t" x="477.5" y="502" font-size="26" text-anchor="start">L1</text>
<text class="t" x="588.5" y="502" font-size="26" text-anchor="start">L</text>
<text class="t" x="24" y="403" font-size="34" text-anchor="start" transform="rotate(-90 24 403)">L2</text>
<text class="t" x="301.5" y="378" font-size="34" text-anchor="start" transform="rotate(-90 301.5 378)">H3</text>
<text class="t" x="302" y="468" font-size="34" text-anchor="start" transform="rotate(-90 302 468)">T</text>
<text class="t" x="736" y="311.5" font-size="34" text-anchor="start" transform="rotate(-90 736 311.5)">H2</text>
<text class="t" x="708.5" y="400" font-size="34" text-anchor="start" transform="rotate(-90 708.5 400)">H1</text>
<text class="t" x="56" y="557" font-size="34" text-anchor="start" transform="rotate(-90 56 557)">A3</text>
<text class="t" x="326.5" y="605" font-size="33" text-anchor="start" transform="rotate(-90 326.5 605)">E</text>
<text class="t" x="363.5" y="628" font-size="33" text-anchor="start" transform="rotate(-90 363.5 628)">E</text>
</g>
</svg>
</body>
</html>
